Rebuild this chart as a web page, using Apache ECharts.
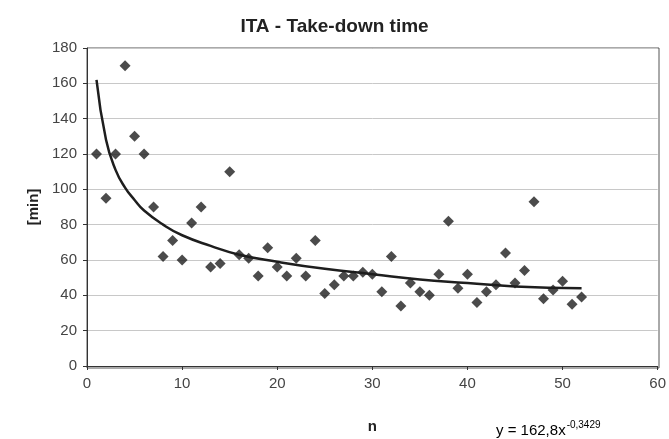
<!DOCTYPE html>
<html><head><meta charset="utf-8">
<script src="https://cdn.jsdelivr.net/npm/echarts@6/dist/echarts.min.js"></script>
<style>html,body{margin:0;padding:0;background:#fff}#c{width:669px;height:439px}</style>
</head><body><div id="c"></div>
<script>
var nValues = [1,2,3,4,5,6,7,8,9,10,11,12,13,14,15,16,17,18,19,20,21,22,23,24,25,26,27,28,29,30,31,32,33,34,35,36,37,38,39,40,41,42,43,44,45,46,47,48,49,50,51,52];
var minValues = [120,95,120,170,130,120,90,62,71,60,81,90,56,58,110,63,61,51,67,56,51,61,51,71,41,46,51,51,53,52,42,62,34,47,42,40,52,82,44,52,36,42,46,64,47,54,93,38,43,48,35,39];
var trendN = [1,2,3,4,5,6,8,10,13,16,20,25,30,35,40,45,52];
var trendValues = [162,128,111,101,94,88,80,74,68,63,59,55,52,49,47,45,44];
var xTicks = [0,10,20,30,40,50,60];
var yTicks = [0,20,40,60,80,100,120,140,160,180];

var chart = echarts.init(document.getElementById('c'));
var font = 'Arial, "Liberation Sans", sans-serif';
chart.setOption({
  animation: false,
  backgroundColor: '#fff',
  title: {
    text: 'ITA - Take-down time', left: 'center', top: 12,
    textStyle: {fontFamily: '"Liberation Sans Narrow", Arial, sans-serif', fontWeight: 'bold', fontSize: 19, color: '#222'}
  },
  grid: {left: 87, right: 10, top: 48, bottom: 71},
  xAxis: {
    type: 'value', min: xTicks[0], max: xTicks[xTicks.length-1], interval: 10,
    name: 'n', nameLocation: 'middle', nameGap: 53,
    nameTextStyle: {fontFamily: font, fontWeight: 'bold', fontSize: 15, color: '#222'},
    axisLine: {show: true, lineStyle: {color: '#333', width: 1}},
    axisTick: {show: true, length: 4, inside: false, lineStyle: {color: '#333'}},
    axisLabel: {fontFamily: font, fontSize: 15, color: '#444', margin: 10},
    splitLine: {show: false}
  },
  yAxis: {
    type: 'value', min: yTicks[0], max: yTicks[yTicks.length-1], interval: 20,
    name: '[min]', nameLocation: 'middle', nameGap: 44, nameRotate: 90,
    nameTextStyle: {fontFamily: font, fontWeight: 'bold', fontSize: 15, color: '#222'},
    axisLine: {show: true, lineStyle: {color: '#333', width: 1}},
    axisTick: {show: true, length: 4, lineStyle: {color: '#333'}},
    axisLabel: {fontFamily: font, fontSize: 15, color: '#444', margin: 10},
    splitLine: {show: true, lineStyle: {color: '#c8c8c8', width: 1}}
  },
  graphic: [
    {type: 'rect', shape: {x: 87, y: 48, width: 572, height: 320}, style: {fill: 'none', stroke: '#555', lineWidth: 1}, silent: true, z: 0},
    {type: 'text', left: 496, top: 420, style: {
      text: '{b|y = 162,8x}{s|-0,3429}', fontFamily: font,
      rich: {b: {fontSize: 15, color: '#333', fontFamily: font, verticalAlign: 'bottom'},
             s: {fontSize: 10, color: '#333', fontFamily: font, verticalAlign: 'top', padding: [0,0,8,1]}}
    }}
  ],
  series: [
    {type: 'scatter', symbol: 'diamond', symbolSize: 11, itemStyle: {color: '#1e1e1e'},
     data: nValues.map(function(n, i){ return [n, minValues[i]]; }), z: 3},
    {type: 'line', smooth: true, symbol: 'none', lineStyle: {color: '#1e1e1e', width: 2.5},
     data: trendN.map(function(n, i){ return [n, trendValues[i]]; }), z: 2}
  ]
});
</script></body></html>
